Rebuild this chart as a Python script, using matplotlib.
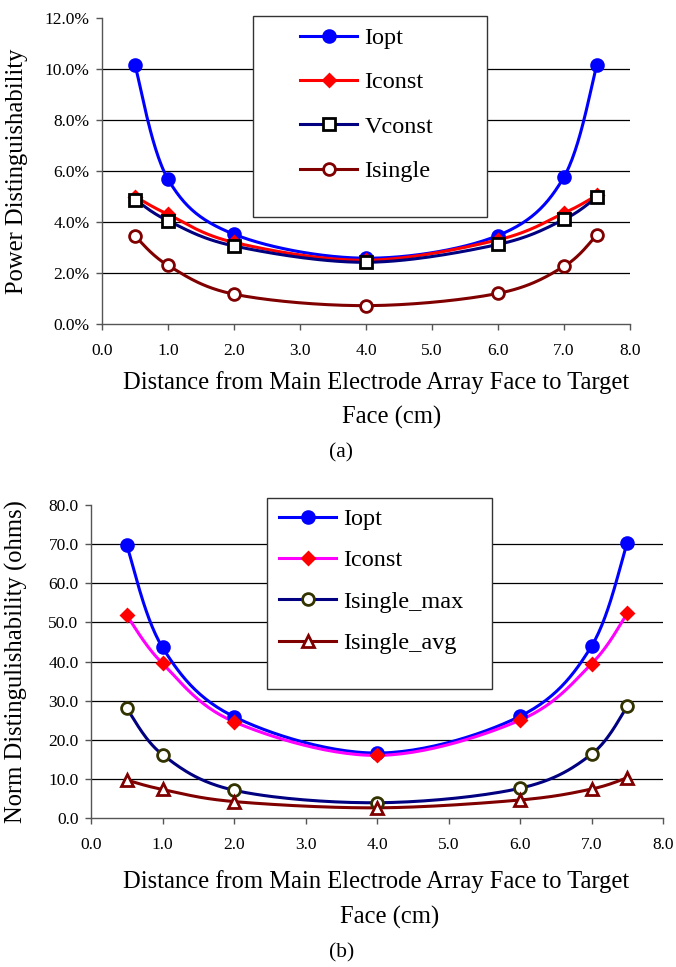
import numpy as np
import matplotlib
matplotlib.use('Agg')
import matplotlib.pyplot as plt
from matplotlib.patches import Rectangle

plt.rcParams['font.family'] = ['Liberation Serif', 'DejaVu Serif']

# Данные
distance = [0.5, 1.0, 2.0, 4.0, 6.0, 7.0, 7.5]

power_labels = ['Iopt', 'Iconst', 'Vconst', 'Isingle']
power_iopt = [10.15, 5.68, 3.52, 2.58, 3.47, 5.77, 10.17]
power_iconst = [5.0, 4.3, 3.2, 2.5, 3.3, 4.35, 5.05]
power_vconst = [4.88, 4.05, 3.06, 2.42, 3.12, 4.1, 4.98]
power_isingle = [3.45, 2.3, 1.17, 0.72, 1.2, 2.26, 3.5]

norm_labels = ['Iopt', 'Iconst', 'Isingle_max', 'Isingle_avg']
norm_iopt = [69.7, 43.6, 25.9, 16.6, 26.0, 43.9, 70.4]
norm_iconst = [51.8, 39.5, 24.6, 16.0, 25.0, 39.4, 52.3]
norm_isingle_max = [28.0, 16.2, 7.1, 3.9, 7.6, 16.3, 28.5]
norm_isingle_avg = [9.7, 7.3, 4.2, 2.6, 4.6, 7.4, 10.3]

W, H = 676, 967
TITLE_FS = 17.7


def smooth(x, y, sx, sy, n=30):
    """Сглаживание как в Excel (Catmull-Rom в экранных координатах)."""
    p = np.column_stack([np.asarray(x) * sx, np.asarray(y) * sy])
    p = np.vstack([p[0], p, p[-1]])
    out = []
    for i in range(1, len(p) - 2):
        p0, p1, p2, p3 = p[i - 1], p[i], p[i + 1], p[i + 2]
        c1 = p1 + (p2 - p0) / 6
        c2 = p2 - (p3 - p1) / 6
        t = np.linspace(0, 1, n)[:, None]
        seg = ((1 - t) ** 3 * p1 + 3 * (1 - t) ** 2 * t * c1
               + 3 * (1 - t) * t ** 2 * c2 + t ** 3 * p2)
        out.append(seg if i == 1 else seg[1:])
    out = np.vstack(out)
    return out[:, 0] / sx, out[:, 1] / sy


def axes_px(left, top, right, bottom):
    return fig.add_axes([left / W, 1 - bottom / H, (right - left) / W, (bottom - top) / H])


def style_axes(ax, ymax, ystep, fmt):
    ax.set_xlim(0, 8)
    ax.set_ylim(0, ymax)
    xt = np.arange(0, 9, 1)
    yt = np.arange(0, ymax + ystep / 2, ystep)
    ax.set_xticks(xt)
    ax.set_yticks(yt)
    ax.set_xticklabels(['%.1f' % v for v in xt], fontsize=12.5, family='Liberation Serif')
    ax.set_yticklabels([fmt % v for v in yt], fontsize=12.5, family='Liberation Serif')
    for s in ['top', 'right']:
        ax.spines[s].set_visible(False)
    for s in ['left', 'bottom']:
        ax.spines[s].set_color('#555555')
        ax.spines[s].set_linewidth(1.0)
    ax.tick_params(direction='out', length=4, width=1, color='#555555')
    ax.tick_params(axis='x', pad=10)
    ax.tick_params(axis='y', pad=5)
    ax.yaxis.grid(True, color='black', linewidth=0.9)
    ax.set_axisbelow(True)
    ax.yaxis.get_gridlines()[-1].set_visible(False)
    ax.yaxis.get_gridlines()[0].set_visible(False)


def plot_series(ax, y, sx, sy, color, marker, mfc, mec, ms, label):
    xs, ys = smooth(distance, y, sx, sy)
    ax.plot(xs, ys, color=color, linewidth=2.2, zorder=3)
    ax.plot(distance, y, linestyle='none', marker=marker, markersize=ms,
            markerfacecolor=mfc, markeredgecolor=mec, markeredgewidth=2, zorder=4)
    return plt.Line2D([], [], color=color, linewidth=2.2, marker=marker, markersize=ms,
                      markerfacecolor=mfc, markeredgecolor=mec, markeredgewidth=2,
                      label=label)


def legend_box(handles, left, top, right, bottom, hx, hy, spacing):
    fig.patches.append(Rectangle((left / W, 1 - bottom / H), (right - left) / W,
                                 (bottom - top) / H, transform=fig.transFigure,
                                 facecolor='white', edgecolor='#333333', linewidth=1,
                                 zorder=5))
    leg = fig.legend(handles=handles, loc='upper left',
                     bbox_to_anchor=(hx / W, 1 - hy / H), frameon=False,
                     fontsize=17.5, handlelength=2.35, handletextpad=0.3,
                     borderpad=0, borderaxespad=0, labelspacing=spacing,
                     markerfirst=True)
    leg.set_zorder(6)


fig = plt.figure(figsize=(W / 100, H / 100), dpi=100)

# (a)
ax1 = axes_px(102, 18, 630, 324)
style_axes(ax1, 12, 2, '%.1f%%')
sx1, sy1 = 528 / 8, 306 / 12
h1 = [
    plot_series(ax1, power_iopt, sx1, sy1, '#0000ff', 'o', '#0000ff', '#0000ff', 8.5, power_labels[0]),
    plot_series(ax1, power_iconst, sx1, sy1, '#ff0000', 'D', '#ff0000', '#ff0000', 6.5, power_labels[1]),
    plot_series(ax1, power_vconst, sx1, sy1, '#000080', 's', 'white', 'black', 8, power_labels[2]),
    plot_series(ax1, power_isingle, sx1, sy1, '#800000', 'o', 'white', '#800000', 8.5, power_labels[3]),
]
ax1.set_ylabel('Power Distinguishability', fontsize=TITLE_FS)
ax1.yaxis.set_label_coords((28 - 102) / 528, 0.5)
legend_box(h1, 253, 16, 487, 217, 300, 27, 0.92)
fig.text(376 / W, 1 - 383 / H, 'Distance from Main Electrode Array Face to Target',
         ha='center', va='center', fontsize=TITLE_FS)
fig.text(392 / W, 1 - 417 / H, 'Face (cm)', ha='center', va='center', fontsize=TITLE_FS)
fig.text(341 / W, 1 - 453 / H, '(a)', ha='center', va='center', fontsize=15.5)

# (b)
ax2 = axes_px(91, 505, 663, 818)
style_axes(ax2, 80, 10, '%.1f')
sx2, sy2 = 572 / 8, 313 / 80
h2 = [
    plot_series(ax2, norm_iopt, sx2, sy2, '#0000ff', 'o', '#0000ff', '#0000ff', 8.5, norm_labels[0]),
    plot_series(ax2, norm_iconst, sx2, sy2, '#ff00ff', 'D', '#ff0000', '#ff0000', 6.5, norm_labels[1]),
    plot_series(ax2, norm_isingle_max, sx2, sy2, '#000080', 'o', 'white', '#333300', 8.5, norm_labels[2]),
    plot_series(ax2, norm_isingle_avg, sx2, sy2, '#800000', '^', 'white', '#800000', 8, norm_labels[3]),
]
ax2.set_ylabel('Norm Distingulishability (ohms)', fontsize=TITLE_FS)
ax2.yaxis.set_label_coords((28 - 91) / 572, 0.5)
legend_box(h2, 267, 498, 492, 689, 279, 508, 0.8)
fig.text(376 / W, 1 - 882 / H, 'Distance from Main Electrode Array Face to Target',
         ha='center', va='center', fontsize=TITLE_FS)
fig.text(390 / W, 1 - 917 / H, 'Face (cm)', ha='center', va='center', fontsize=TITLE_FS)
fig.text(342 / W, 1 - 953 / H, '(b)', ha='center', va='center', fontsize=15.5)

fig.savefig('out.png', dpi=100)
